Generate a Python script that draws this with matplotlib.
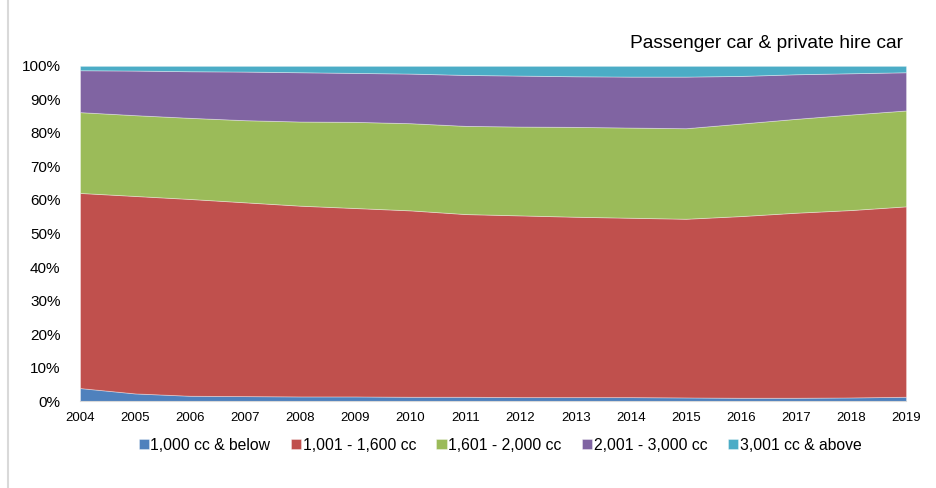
import numpy as np
import matplotlib.pyplot as plt
from matplotlib.lines import Line2D

plt.rcParams['font.family'] = ['Liberation Sans', 'DejaVu Sans']

years = list(range(2004, 2020))
labels = ['1,000 cc & below', '1,001 - 1,600 cc', '1,601 - 2,000 cc',
          '2,001 - 3,000 cc', '3,001 cc & above']
colors = ['#4F81BD', '#C0504D', '#9BBB59', '#8064A2', '#4BACC6']

# shares in percent
cc_1000 = [3.9, 2.3, 1.6, 1.5, 1.4, 1.4, 1.3, 1.3, 1.2, 1.2, 1.2, 1.1, 1.0, 1.0, 1.1, 1.3]
cc_1600 = [58.2, 58.9, 58.7, 57.8, 56.9, 56.2, 55.6, 54.5, 54.2, 53.8, 53.5, 53.3, 54.2, 55.2, 55.9, 56.8]
cc_2000 = [24.1, 24.1, 24.2, 24.5, 25.1, 25.7, 26.0, 26.3, 26.5, 26.8, 26.9, 27.0, 27.6, 28.0, 28.5, 28.6]
cc_3000 = [12.5, 13.3, 13.9, 14.5, 14.7, 14.6, 14.8, 15.2, 15.2, 15.1, 15.2, 15.4, 14.2, 13.3, 12.3, 11.4]
cc_above = [1.3, 1.4, 1.6, 1.7, 1.9, 2.1, 2.3, 2.7, 2.9, 3.1, 3.2, 3.2, 3.0, 2.5, 2.2, 1.9]

data = np.array([cc_1000, cc_1600, cc_2000, cc_3000, cc_above])
data = data / data.sum(axis=0) * 100

fig = plt.figure(figsize=(9.36, 4.88), dpi=100)
ax = fig.add_axes([0.0855, 0.178, 0.8825, 0.687])

ax.stackplot(years, data, colors=colors, labels=labels,
             edgecolor=(1, 1, 1, 0.4), linewidth=0.6)

ax.set_xlim(2004, 2019)
ax.set_ylim(0, 100)
ax.set_xticks(years)
ax.set_xticklabels([str(y) for y in years], fontsize=9.5)
ax.set_yticks(range(0, 101, 10))
ax.set_yticklabels(['%d%%' % v for v in range(0, 101, 10)], fontsize=11)
ax.tick_params(axis='y', length=0, pad=14)
ax.tick_params(axis='x', length=0, pad=8)
for s in ['top', 'right', 'left']:
    ax.spines[s].set_visible(False)
ax.spines['bottom'].set_color('#D9D9D9')

fig.text(903 / 936, 1 - 43 / 488, 'Passenger car & private hire car',
         ha='right', va='center', fontsize=13.8)

ax.legend(loc='center', bbox_to_anchor=(500 / 936, 1 - 445 / 488),
          bbox_transform=fig.transFigure, ncol=5,
          frameon=False, fontsize=11.3, handlelength=0.65, handleheight=0.65,
          handletextpad=0.1, columnspacing=1.3)

# left edge of the chart frame
fig.add_artist(Line2D([8 / 936, 8 / 936], [0, 1], transform=fig.transFigure,
                      color='#D9D9D9', linewidth=1.5))

fig.savefig('out.png', dpi=100)
